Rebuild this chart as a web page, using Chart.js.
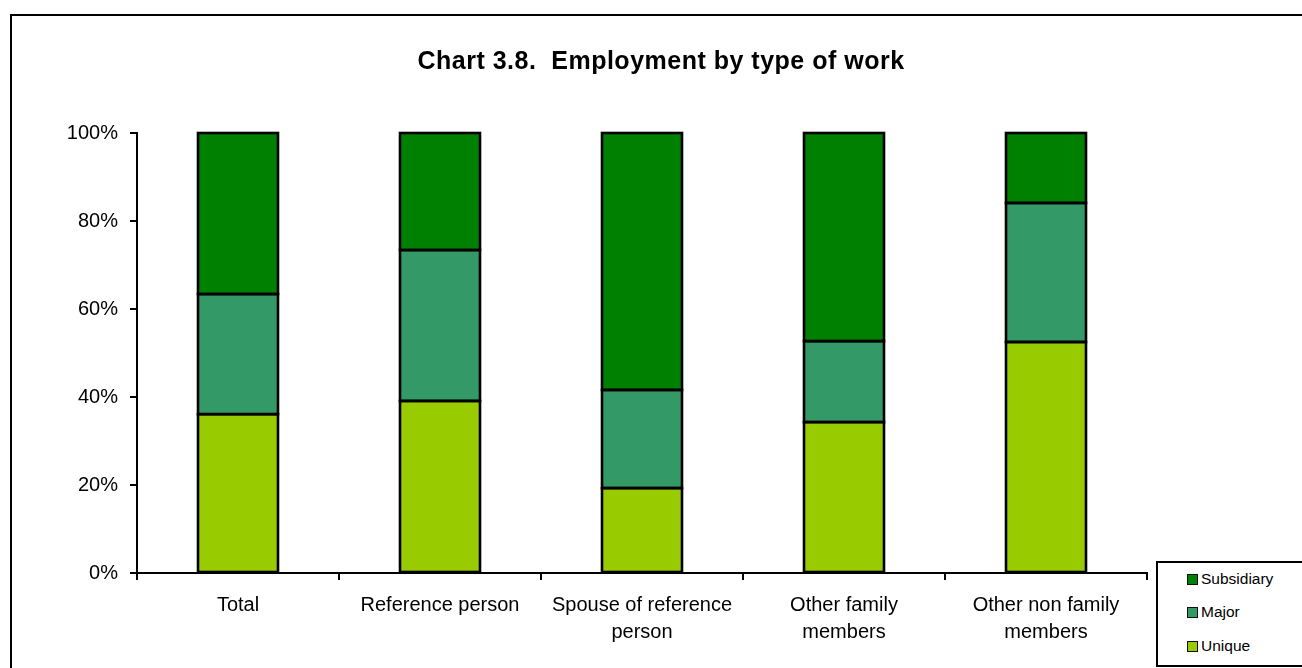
<!DOCTYPE html>
<html>
<head>
<meta charset="utf-8">
<script src="https://cdn.jsdelivr.net/npm/chart.js@4"></script>
<style>
    html, body { margin: 0; padding: 0; background: #fff; overflow: hidden; }
    body { width: 1302px; height: 668px; position: relative; font-family: 'Liberation Sans', Arial, sans-serif; }
    #frame { position: absolute; left: 10px; top: 14px; width: 1400px; height: 800px; border: 2px solid #000; }
    #title { position: absolute; left: 0; width: 1322px; top: 46px; text-align: center; font-weight: bold; font-size: 25px; letter-spacing: 0.5px; color: #000; white-space: pre; }
    #chartBox { position: absolute; left: 0; top: 0; width: 1302px; height: 668px; }
    #legend { position: absolute; left: 1156px; top: 561px; width: 200px; height: 102px; border: 2px solid #000; background: #fff; font-size: 15.5px; }
    #legend .item { position: absolute; left: 29px; height: 18px; line-height: 18px; white-space: nowrap; }
    #legend .swatch { display: inline-block; width: 9px; height: 9px; border: 1.5px solid #111; vertical-align: -1px; margin-right: 3px; }
</style>
</head>
<body>
<div id="frame"></div>
<div id="chartBox"><canvas id="chartWork" width="1302" height="668"></canvas></div>
<div id="title">Chart 3.8.  Employment by type of work</div>
<div id="legend"></div>
<script>
document.addEventListener('DOMContentLoaded', function () {
    const categories = [
        'Total',
        'Reference person',
        ['Spouse of reference', 'person'],
        ['Other family', 'members'],
        ['Other non family', 'members'],
    ];
    const unique = [36.1, 39.1, 19.3, 34.3, 52.5];
    const major = [27.3, 34.3, 22.3, 18.4, 31.6];
    const subsidiary = [36.6, 26.6, 58.4, 47.3, 15.9];
    const yTicks = [0, 20, 40, 60, 80, 100];

    const palette = {
        subsidiary: '#008000',
        major: '#339966',
        unique: '#99cc00',
    };

    const fontFamily = "'Liberation Sans', Arial, sans-serif";

    const datasets = [
        { label: 'Unique', data: unique, backgroundColor: palette.unique },
        { label: 'Major', data: major, backgroundColor: palette.major },
        { label: 'Subsidiary', data: subsidiary, backgroundColor: palette.subsidiary },
    ].map(function (ds) {
        return Object.assign(ds, {
            borderWidth: 0,
            inflateAmount: 0,
            barThickness: 80,
        });
    });

    // black outline round every stacked segment, using the bar elements' own geometry
    const segmentOutline = {
        id: 'segmentOutline',
        afterDatasetsDraw: function (chart) {
            const ctx = chart.ctx;
            ctx.save();
            ctx.strokeStyle = '#000';
            ctx.lineWidth = 2.6;
            chart.data.datasets.forEach(function (ds, i) {
                chart.getDatasetMeta(i).data.forEach(function (bar) {
                    const p = bar.getProps(['x', 'y', 'base', 'width'], true);
                    ctx.strokeRect(p.x - p.width / 2, Math.min(p.y, p.base), p.width, Math.abs(p.base - p.y));
                });
            });
            ctx.restore();
        },
    };

    new Chart(document.getElementById('chartWork'), {
        type: 'bar',
        data: { labels: categories, datasets: datasets },
        plugins: [segmentOutline],
        options: {
            responsive: false,
            animation: false,
            layout: { padding: { left: 0, top: 133, right: 155, bottom: 0 } },
            plugins: {
                legend: { display: false },
                title: { display: false },
                tooltip: { enabled: false },
            },
            scales: {
                x: {
                    stacked: true,
                    afterFit: function (scale) { scale.height = 95; },
                    grid: { display: true, drawOnChartArea: false, drawTicks: true, tickLength: 7, color: '#000', lineWidth: 2, offset: true },
                    border: { display: true, color: '#000', width: 2 },
                    ticks: { color: '#000', padding: 12, maxRotation: 0, autoSkip: false, font: { family: fontFamily, size: 20, lineHeight: 1.35 } },
                },
                y: {
                    stacked: true,
                    min: 0,
                    max: 100,
                    afterFit: function (scale) { scale.width = 137; },
                    afterBuildTicks: function (scale) {
                        scale.ticks = yTicks.map(function (v) { return { value: v }; });
                    },
                    grid: { display: true, drawOnChartArea: false, drawTicks: true, tickLength: 7, color: '#000', lineWidth: 2 },
                    border: { display: true, color: '#000', width: 2 },
                    ticks: {
                        color: '#000',
                        padding: 12,
                        font: { family: fontFamily, size: 20 },
                        callback: function (v) { return v + '%'; },
                    },
                },
            },
        },
    });

    // legend, top to bottom in reverse stack order
    const legendEl = document.getElementById('legend');
    const tops = [7, 40, 74];
    datasets.slice().reverse().forEach(function (ds, i) {
        const item = document.createElement('div');
        item.className = 'item';
        item.style.top = tops[i] + 'px';
        const sw = document.createElement('span');
        sw.className = 'swatch';
        sw.style.background = ds.backgroundColor;
        item.appendChild(sw);
        item.appendChild(document.createTextNode(ds.label));
        legendEl.appendChild(item);
    });
});
</script>
</body>
</html>
